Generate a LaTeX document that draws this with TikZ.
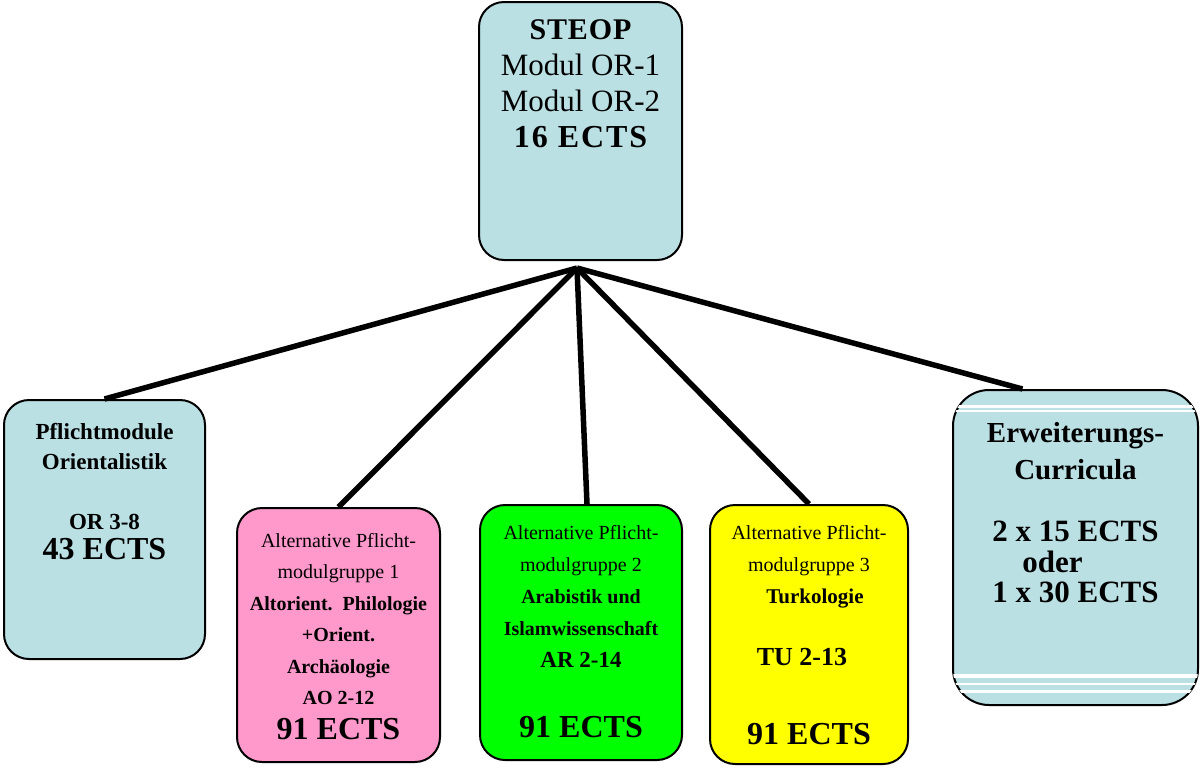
\documentclass[tikz,border=0pt]{standalone}
\usepackage{fontspec}
\setmainfont{Liberation Serif}
\usepackage{tikz}
\usetikzlibrary{positioning}

\definecolor{steopblue}{RGB}{186,224,228}
\definecolor{apgpink}{RGB}{255,153,204}
\definecolor{apggreen}{RGB}{0,255,0}
\definecolor{apgyellow}{RGB}{255,255,0}

\newcommand{\ectsfont}{\fontsize{32}{36}\selectfont\bfseries}
\newcommand{\erwfont}{\fontsize{31}{30}\selectfont\bfseries}

\tikzset{
  box/.style={draw, line width=2pt, rounded corners=25pt, inner sep=0pt},
  boxtext/.style={align=center, inner sep=0pt, font=\fontsize{20}{32}\selectfont},
  link/.style={line width=5.5pt},
  stripe/.style={white, line width=#1}
}

\begin{document}
\begin{tikzpicture}[x=1pt, y=-1pt]
\useasboundingbox (0,0) rectangle (1201,769);

% boxes
\node[box, fill=steopblue, minimum width=203pt, minimum height=258pt] (steop) at (580.5,131) {};
\node[box, fill=steopblue, minimum width=201pt, minimum height=259pt] (pflicht) at (104.5,529.5) {};
\node[box, fill=apgpink, minimum width=203pt, minimum height=254pt] (apg1) at (338.5,635) {};
\node[box, fill=apggreen, minimum width=202pt, minimum height=255pt] (apg2) at (581,632.5) {};
\node[box, fill=apgyellow, minimum width=198pt, minimum height=259pt] (apg3) at (809,634.5) {};
\node[box, fill=steopblue, rounded corners=36pt, minimum width=245pt, minimum height=315pt] (erw) at (1075.5,547.5) {};

% white stripes of the right box
\begin{scope}
\clip[rounded corners=35pt] ([shift={(1pt,1pt)}]erw.south west) rectangle ([shift={(-1pt,-1pt)}]erw.north east);
\draw[stripe=3pt] ([yshift=-17pt]erw.north west) -- ([yshift=-17pt]erw.north east);
\draw[stripe=2pt] ([yshift=-22pt]erw.north west) -- ([yshift=-22pt]erw.north east);
\draw[stripe=4pt] ([yshift=30pt]erw.south west) -- ([yshift=30pt]erw.south east);
\draw[stripe=2pt] ([yshift=22.5pt]erw.south west) -- ([yshift=22.5pt]erw.south east);
\draw[stripe=3pt] ([yshift=14.5pt]erw.south west) -- ([yshift=14.5pt]erw.south east);
\end{scope}

% texts
\node[boxtext, font=\fontsize{31}{36}\selectfont, below=18pt of steop.north] (steoptext)
  {{\fontsize{30}{36}\selectfont\bfseries\addfontfeature{LetterSpace=3}STEOP}\\Modul OR-1\\Modul OR-2\\
   {\ectsfont\addfontfeature{LetterSpace=6}16 ECTS}};
\node[boxtext, font=\fontsize{23}{30}\selectfont\bfseries, below=24pt of pflicht.north] (pflichttext)
  {Pflichtmodule\\Orientalistik\\[30pt]OR 3-8\\{\ectsfont 43 ECTS}};
\node[boxtext, font=\fontsize{20}{31.5}\selectfont, below=26pt of apg1.north] (apg1text)
  {Alternative Pflicht-\\modulgruppe 1\\\textbf{Altorient.\ \ Philologie}\\\textbf{+Orient.}\\
   \textbf{Archäologie}\\\textbf{AO 2-12}\\[3pt]{\ectsfont 91 ECTS}};
\node[boxtext, below=21pt of apg2.north] (apg2text)
  {Alternative Pflicht-\\modulgruppe 2\\\textbf{Arabistik und}\\\textbf{Islamwissenschaft}\\
   {\fontsize{23}{32}\selectfont\bfseries AR 2-14}\\[38pt]{\ectsfont 91 ECTS}};
\node[boxtext, below=21pt of apg3.north] (apg3text)
  {Alternative Pflicht-\\modulgruppe 3\\{\fontsize{21}{32}\selectfont\bfseries\hspace*{12pt}Turkologie}\\[30pt]
   {\fontsize{26}{32}\selectfont\bfseries TU 2-13\hspace*{14pt}\mbox{}}\\[47pt]{\ectsfont 91 ECTS}};
\node[boxtext, font=\fontsize{29}{30}\selectfont\bfseries, below=33pt of erw.north] (erwtext)
  {Erweiterungs-\\[7pt]Curricula\\[32pt]{\erwfont 2 x 15 ECTS}\\[1pt]{\erwfont oder\hspace*{46pt}\mbox{}}\\
   {\erwfont 1 x 30 ECTS}};

% connectors
\coordinate (hub) at (577,268);
\draw[link] (hub) -- (pflicht.north);
\draw[link] (hub) -- (apg1.north);
\draw[link] (hub) -- ([xshift=6pt]apg2.north);
\draw[link] (hub) -- (apg3.north);
\draw[link] (hub) -- ([xshift=-53pt]erw.north);
\end{tikzpicture}
\end{document}
